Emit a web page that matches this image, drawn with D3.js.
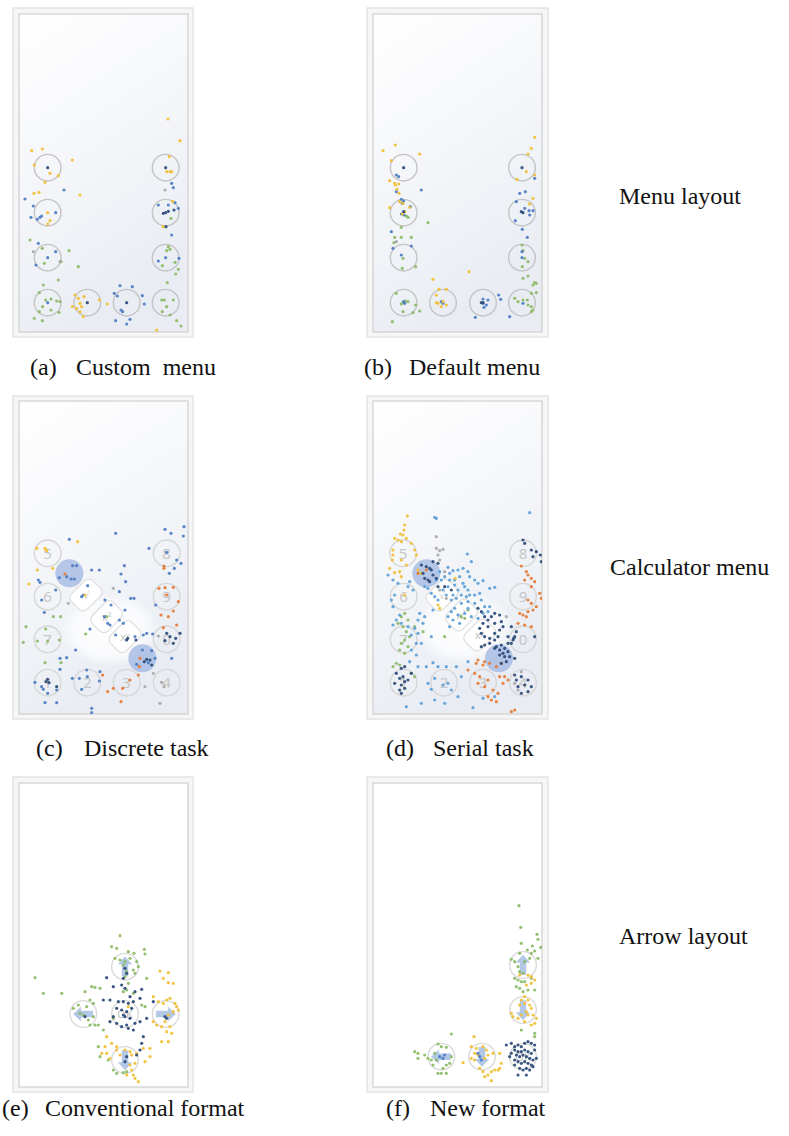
<!DOCTYPE html>
<html><head><meta charset="utf-8">
<script src="https://cdn.jsdelivr.net/npm/d3@7"></script>
<style>body{margin:0;background:#fff}svg{display:block}</style>
</head><body><svg id="c" width="789" height="1136"></svg>
<script>
// ---------- DATA (touch coordinates in each panel's screen units) ----------
const aYellow=[[474,-33],[65,62],[97,57],[187,90],[73,105],[120,130],[145,137],[105,157],[72,190],[87,187],[210,195],[120,272],[113,282],[510,32],[478,80],[470,125],[480,125],[485,125],[488,215],[460,290],[195,495],[205,505],[210,520],[215,530],[200,535],[210,545],[222,500],[187,530],[268,510],[292,522],[220,560],[440,600],[113,248]];
const aBlue=[[162,180],[45,207],[70,228],[137,248],[63,262],[82,268],[90,262],[95,258],[85,340],[137,365],[113,383],[78,405],[485,160],[490,173],[495,218],[475,225],[505,235],[445,225],[485,315],[467,383],[445,393],[507,385],[330,467],[367,470],[313,490],[322,498],[397,497],[403,522],[333,540],[338,545],[317,572],[360,568],[350,582],[113,518]];
const aNavy=[[113,113],[467,113],[467,248],[475,244],[460,250],[232,518],[350,518],[468,290],[492,240]];
const aGreen=[[60,330],[97,355],[177,362],[103,400],[205,410],[153,395],[145,450],[100,465],[88,488],[107,510],[123,507],[140,513],[150,515],[98,530],[123,540],[147,547],[88,545],[73,565],[97,572],[483,265],[475,350],[480,358],[470,362],[457,407],[495,397],[505,418],[497,432],[472,458],[455,510],[463,510],[490,510],[470,530],[457,545],[480,555],[500,572],[513,588]];
const aGray=[[465,180],[70,365],[150,395]];

const bYellow=[[45,62],[82,45],[155,72],[70,92],[65,152],[80,160],[92,162],[87,178],[93,190],[82,165],[500,22],[490,55],[480,72],[447,148],[500,135],[105,220],[95,215],[125,232],[110,245],[103,252],[65,233],[495,205],[485,222],[303,425],[195,448],[213,478],[235,478],[205,495],[210,520],[220,530],[225,515],[235,525],[205,518],[475,125]];
const bBlue=[[85,135],[92,140],[160,180],[85,185],[100,208],[107,213],[103,220],[127,230],[100,252],[108,255],[70,305],[75,355],[130,348],[100,375],[500,145],[455,190],[472,185],[445,215],[470,235],[483,242],[495,242],[485,255],[442,272],[463,298],[478,322],[462,365],[462,383],[392,495],[398,508],[345,507],[360,510],[345,520],[355,525],[348,532],[322,562],[425,560],[220,515],[225,520],[465,520],[107,515],[110,520]];
const bNavy=[[107,113],[462,113],[107,245],[460,245],[465,248],[340,518],[345,518]];
const bGreen=[[180,278],[115,258],[120,262],[100,292],[80,322],[100,322],[130,322],[78,338],[105,385],[103,415],[143,410],[462,345],[465,362],[463,410],[480,395],[470,385],[465,445],[480,438],[495,465],[500,458],[505,460],[505,488],[490,490],[85,490],[105,518],[112,513],[100,522],[120,515],[143,525],[105,545],[135,548],[155,543],[73,575],[440,505],[450,515],[465,510],[478,510],[490,530],[495,540],[490,545],[480,525]];
const bGray=[[85,335]];

const cYellow=[[80,205],[105,205],[110,212],[203,185],[82,270],[128,265],[57,312],[225,345]];
const cBlue=[[178,178],[317,160],[465,148],[483,160],[522,140],[520,168],[417,205],[470,217],[500,240],[513,250],[478,280],[493,265],[245,270],[268,270],[333,282],[343,257],[347,305],[148,293],[188,257],[200,257],[183,297],[170,290],[193,297],[85,300],[90,307],[95,360],[233,317],[220,345],[215,350],[137,330],[103,397],[285,360],[328,335],[362,355],[372,355],[345,390],[303,375],[293,430],[283,410],[300,435],[328,420],[340,430],[240,447],[317,465],[375,470],[400,465],[410,460],[437,375],[428,462],[150,535],[170,533],[150,568],[197,510],[230,570],[187,595],[208,595],[215,628],[232,590],[270,575],[268,603],[75,607],[95,620],[100,628],[113,640],[140,630],[105,668],[140,668],[245,685],[245,698],[425,512],[397,510],[435,535],[380,553],[415,548],[485,535]];
const cNavy=[[113,598],[117,608],[108,605],[140,620],[350,480],[353,475],[378,480],[410,538],[420,540],[403,545],[425,555],[470,460],[480,470],[465,482],[490,490],[497,475],[510,460]];
const cOrange=[[462,258],[462,265],[447,325],[465,323],[490,322],[470,345],[505,365],[490,393],[453,405],[475,410],[500,435],[460,443],[390,535],[388,560],[278,585],[385,585],[360,600],[293,635],[310,625],[338,625],[333,665],[165,282]];
const cGreen=[[130,410],[152,410],[48,440],[107,447],[82,483],[40,487],[113,483],[148,480],[227,462],[105,548],[153,548],[290,410]];
const cGray=[[175,370],[310,325],[445,468],[430,580],[455,607],[462,620],[450,670],[405,620]];

const dYellow=[[118,108],[110,135],[108,150],[97,162],[105,165],[80,175],[90,180],[100,185],[115,175],[130,190],[140,210],[145,225],[75,210],[75,225],[73,240],[100,240],[115,255],[80,278],[95,275],[65,265],[150,270],[160,280],[110,345],[210,375],[215,385],[262,295],[100,290]];
const dBlue=[[240,262],[255,272],[270,270],[285,265],[300,275],[298,222],[310,245],[305,290],[320,300],[330,310],[345,302],[365,325],[380,322],[290,320],[270,330],[255,345],[265,355],[280,345],[295,350],[305,345],[320,345],[335,340],[280,370],[300,365],[320,370],[340,360],[350,380],[365,380],[300,385],[260,385],[250,395],[270,405],[290,400],[310,410],[330,415],[345,400],[360,395],[240,410],[255,420],[275,430],[245,440],[285,310],[300,330],[260,315],[245,300],[230,290],[220,300],[205,300],[215,275],[245,280],[275,290],[260,300],[240,320],[225,330],[235,345],[250,360],[210,360],[200,350],[190,340],[180,325],[170,320],[195,390],[170,410],[155,400],[150,420],[165,430],[140,445],[150,460],[190,470],[160,490],[130,510],[145,525],[125,545],[150,560],[175,560],[195,548],[210,560],[235,560],[265,560],[300,545],[200,595],[180,610],[190,628],[225,615],[240,610],[250,630],[270,650],[230,670],[200,660],[160,670],[115,680],[315,683],[345,655],[380,650],[280,590],[485,98],[200,112],[205,115],[60,285],[75,300],[90,310],[120,320],[125,305],[135,330],[80,345],[70,360],[75,380],[85,420],[95,405],[100,430],[75,435],[120,440],[130,465],[145,490]];
const dNavy=[[465,180],[470,190],[490,210],[505,215],[517,225],[495,230],[520,245],[160,255],[175,260],[185,265],[190,270],[165,280],[180,300],[195,285],[205,295],[210,250],[195,245],[170,295],[185,305],[210,320],[230,320],[250,330],[330,385],[340,395],[350,410],[360,420],[370,410],[380,400],[395,405],[400,425],[380,430],[360,440],[345,430],[335,445],[340,460],[350,470],[365,475],[380,460],[395,450],[405,440],[390,470],[380,480],[365,490],[350,495],[340,500],[385,500],[400,495],[410,505],[420,490],[430,490],[435,480],[440,470],[430,440],[445,455],[420,515],[405,520],[395,510],[380,505],[395,525],[410,530],[415,545],[400,550],[425,530],[440,535],[100,565],[110,560],[85,580],[95,595],[105,590],[110,605],[100,615],[95,630],[110,625],[120,600],[130,580],[80,610],[100,640],[440,585],[445,600],[460,590],[480,600],[470,615],[490,620],[480,635],[460,640],[450,620],[437,475],[420,470],[500,470]];
const dOrange=[[460,258],[475,275],[480,285],[490,295],[500,305],[470,300],[490,320],[515,340],[520,355],[480,360],[490,370],[505,380],[495,390],[480,395],[455,400],[465,405],[475,410],[450,430],[470,435],[490,440],[400,550],[385,560],[365,550],[350,545],[330,540],[325,550],[345,555],[300,570],[320,580],[335,590],[360,600],[330,610],[350,620],[375,630],[390,640],[360,650],[370,660],[385,665],[395,590],[410,590],[420,600],[405,610],[175,270],[440,690],[430,695],[150,280]];
const dGreen=[[110,400],[100,410],[90,430],[120,420],[105,440],[115,455],[125,470],[110,480],[100,490],[120,500],[95,510],[110,520],[130,580],[140,590],[85,550],[95,555],[75,560],[230,470],[165,455],[140,440],[280,410],[290,415],[300,390]];
const dGray=[[205,205],[215,212],[225,208],[210,225],[215,240],[205,170],[230,275],[215,330],[235,355],[415,410],[450,630],[460,575],[440,610]];

const eGreen=[[330,137],[305,170],[320,175],[355,185],[372,190],[403,178],[405,192],[315,205],[330,210],[345,215],[360,205],[380,215],[385,230],[370,240],[375,250],[350,245],[340,225],[345,260],[355,280],[410,265],[75,263],[100,310],[155,310],[225,305],[245,290],[255,292],[270,295],[240,330],[250,340],[230,350],[205,345],[190,355],[210,370],[235,390],[240,405],[255,405],[265,405],[250,380],[220,375],[340,305],[350,300],[370,310],[395,345],[405,350],[310,385],[280,420],[265,470],[270,500],[310,540],[320,550],[340,548],[350,545],[295,510]];
const eNavy=[[290,263],[310,290],[335,285],[345,295],[360,320],[375,305],[395,298],[280,330],[300,330],[325,335],[340,335],[355,340],[370,335],[390,325],[320,355],[335,360],[350,365],[365,355],[340,375],[345,380],[360,385],[310,380],[300,395],[320,400],[335,410],[350,405],[375,400],[390,395],[355,415],[370,420],[400,440],[395,460],[390,480],[380,495],[345,515],[350,500],[345,235],[350,250],[340,265],[225,380],[410,385],[430,335],[465,380],[470,385]];
const eYellow=[[450,243],[475,248],[460,265],[490,280],[475,278],[430,320],[445,335],[460,340],[470,330],[480,325],[495,340],[500,350],[505,360],[490,365],[475,375],[465,395],[455,410],[440,405],[430,395],[480,410],[470,425],[485,430],[455,455],[475,455],[290,440],[305,460],[320,470],[285,470],[275,490],[290,490],[300,505],[320,480],[330,495],[345,480],[360,485],[380,490],[400,475],[405,515],[375,520],[360,525],[365,540],[350,555],[370,555],[375,565],[385,575],[355,350],[365,495],[420,475],[420,500]];

const fGreen=[[453,47],[458,112],[460,160],[507,133],[510,148],[493,168],[518,172],[478,180],[500,183],[490,190],[455,190],[430,208],[440,215],[485,205],[510,205],[450,230],[470,215],[455,245],[465,250],[440,265],[450,270],[460,275],[470,275],[445,290],[455,295],[490,265],[500,300],[480,300],[465,305],[500,430],[500,440],[460,420],[250,432],[210,462],[220,470],[235,472],[140,485],[150,490],[170,495],[180,505],[190,510],[200,490],[205,510],[250,500],[245,520],[235,525],[225,535],[210,550],[220,550],[235,550],[150,505],[195,525]];
const fYellow=[[455,255],[480,255],[490,260],[500,270],[490,280],[475,285],[470,320],[480,330],[460,330],[470,340],[485,345],[490,355],[475,365],[460,375],[480,375],[495,375],[505,385],[500,400],[490,405],[470,395],[450,385],[435,380],[430,370],[455,345],[318,440],[310,470],[325,475],[345,470],[355,480],[320,490],[330,495],[350,505],[360,495],[375,490],[395,490],[400,520],[395,535],[380,540],[370,545],[360,555],[350,560],[345,545],[335,535],[370,572],[390,540],[285,518],[320,510],[310,505]];
const fNavy=[[415,465],[430,460],[440,470],[450,465],[460,470],[470,460],[480,455],[490,460],[500,465],[440,480],[450,485],[460,485],[470,480],[480,485],[490,490],[500,480],[445,495],[455,500],[465,495],[475,500],[485,505],[495,510],[505,505],[440,510],[450,515],[460,520],[470,515],[480,520],[490,525],[440,525],[455,535],[465,540],[475,535],[485,540],[495,530],[450,555],[475,555],[430,490],[425,500]];
const fBlue=[[330,490],[335,500],[340,510],[215,500],[225,505],[230,495]];

// targets / keys / arrows
const targetsA=[[113,113],[467,113],[113,248],[467,248],[113,383],[467,383],[113,518],[232,518],[350,518],[467,518]];
const targetsB=[[107,113],[462,113],[107,248],[462,248],[107,383],[462,383],[107,518],[225,518],[345,518],[462,518]];
const keysC=[["5",113,220],["6",113,350],["7",113,478],["8",470,220],["9",470,350],["0",470,478],["1",113,608],["2",232,608],["3",350,608],["4",470,608]];
const keysD=[["5",105,220],["6",107,350],["7",107,478],["8",465,220],["9",465,350],["0",465,478],["1",107,608],["2",228,608],["3",345,608],["4",465,608]];
const highlightsC=[[178,280],[397,535]];
const highlightsD=[[175,280],[393,535]];
const opsC=[["√",228,345],["x²",290,410],["xʸ",345,470]];
const opsD=[["√",222,345],["x²",280,405],["xʸ",335,465]];
const arrowsE=[["up",345,230],["left",220,372],["ok",345,372],["right",467,372],["down",345,510]];
const arrowsF=[["up",465,225],["down",465,360],["left",220,500],["down",342,500],["ok",465,500]];

const captions=[["(a)","Custom  menu"],["(b)","Default menu"],["(c)","Discrete task"],["(d)","Serial task"],["(e)","Conventional format"],["(f)","New format"]];
const rowLabels=["Menu layout","Calculator menu","Arrow layout"];

// ---------- LAYOUT ----------
const colors={y:"#f1bf34",b:"#4d7dc3",lb:"#5d9fd8",n:"#2b4a77",g:"#8cbb66",o:"#e67b35",k:"#a8a8a8"};
const panels=[
 {outer:[13,8,193,337],inner:[19,14,188,332],crop:[10,130],grad:true,
  series:[["g",aGreen],["k",aGray],["b",aBlue],["y",aYellow],["n",aNavy]],targets:targetsA},
 {outer:[367,8,548,337],inner:[373,14,542,332],crop:[368,130],grad:true,
  series:[["g",bGreen],["k",bGray],["b",bBlue],["y",bYellow],["n",bNavy]],targets:targetsB},
 {outer:[13,396,193,719],inner:[19,401,188,714],crop:[10,480],grad:true,
  series:[["k",cGray],["g",cGreen],["b",cBlue],["y",cYellow],["o",cOrange],["n",cNavy]],keys:keysC,hl:highlightsC,ops:opsC},
 {outer:[367,396,548,719],inner:[373,401,542,714],crop:[368,480],grad:true,
  series:[["k",dGray],["g",dGreen],["lb",dBlue],["y",dYellow],["o",dOrange],["n",dNavy]],keys:keysD,hl:highlightsD,ops:opsD},
 {outer:[13,777,193,1092],inner:[19,783,188,1087],crop:[10,890],grad:false,
  series:[["g",eGreen],["y",eYellow],["n",eNavy]],arrows:arrowsE},
 {outer:[367,777,548,1092],inner:[373,783,542,1087],crop:[368,890],grad:false,
  series:[["g",fGreen],["y",fYellow],["b",fBlue],["n",fNavy]],arrows:arrowsF}
];
const captionPos=[[30,76,375],[364,409,375],[36,84,756],[386,433,756],[2,45,1116],[386,430,1116]];
const rowLabelPos=[[619,204],[610,575],[619,944]];
const serif="'Liberation Serif','Times New Roman',serif";

const svg=d3.select("#c");
const defs=svg.append("defs");
const g0=defs.append("linearGradient").attr("id","bg").attr("x1",0).attr("y1",0).attr("x2",0.35).attr("y2",1);
g0.append("stop").attr("offset",0).attr("stop-color","#ffffff");
g0.append("stop").attr("offset",0.35).attr("stop-color","#f8f9fb");
g0.append("stop").attr("offset",1).attr("stop-color","#e9edf3");
const rg=defs.append("radialGradient").attr("id","wh");
rg.append("stop").attr("offset",0).attr("stop-color","#ffffff").attr("stop-opacity",0.95);
rg.append("stop").attr("offset",0.7).attr("stop-color","#ffffff").attr("stop-opacity",0.7);
rg.append("stop").attr("offset",1).attr("stop-color","#ffffff").attr("stop-opacity",0);

const arrowShape=[[0,-32],[24,-6],[11,-6],[11,30],[-11,30],[-11,-6],[-24,-6]];
const rot={up:0,right:90,down:180,left:270};

panels.forEach((p,i)=>{
  const x=d3.scaleLinear().domain([0,540]).range([p.crop[0],p.crop[0]+180]);
  const y=d3.scaleLinear().domain([0,540]).range([p.crop[1],p.crop[1]+180]);
  const k=x(1)-x(0);
  const g=svg.append("g");
  const [ox0,oy0,ox1,oy1]=p.outer,[ix0,iy0,ix1,iy1]=p.inner;
  g.append("rect").attr("x",ox0).attr("y",oy0).attr("width",ox1-ox0).attr("height",oy1-oy0)
    .attr("fill","#f6f6f6").attr("stroke","#e4e4e4").attr("stroke-width",1.5);
  g.append("rect").attr("x",ix0).attr("y",iy0).attr("width",ix1-ix0).attr("height",iy1-iy0)
    .attr("fill",p.grad?"url(#bg)":"#ffffff").attr("stroke","#cfcfcf").attr("stroke-width",1.2);
  const clip="clip"+i;
  defs.append("clipPath").attr("id",clip).append("rect").attr("x",ix0).attr("y",iy0).attr("width",ix1-ix0).attr("height",iy1-iy0);
  const inner=g.append("g").attr("clip-path",`url(#${clip})`);

  if(p.ops){
    const c0=p.ops[1];
    inner.append("ellipse").attr("cx",x(c0[1]+10)).attr("cy",y(c0[2]+40)).attr("rx",150*k).attr("ry",110*k)
      .attr("fill","url(#wh)");
    p.ops.forEach(o=>{
      const og=inner.append("g").attr("transform",`translate(${x(o[1])},${y(o[2])}) rotate(45)`);
      og.append("rect").attr("x",-11).attr("y",-15).attr("width",22).attr("height",30).attr("rx",6)
        .attr("fill","#ffffff").attr("stroke","#dedede").attr("stroke-width",1.2);
      og.append("text").attr("transform","rotate(-45)").attr("text-anchor","middle").attr("dy","0.35em")
        .attr("font-family","Noto Sans").attr("font-size",11).attr("fill","#c4c4c4").text(o[0]);
    });
  }
  if(p.hl){
    inner.selectAll(".hl").data(p.hl).join("circle").attr("cx",d=>x(d[0])).attr("cy",d=>y(d[1]))
      .attr("r",42*k).attr("fill","#a9bde4").attr("opacity",0.85);
  }
  if(p.targets){
    inner.selectAll(".t").data(p.targets).join("circle").attr("cx",d=>x(d[0])).attr("cy",d=>y(d[1]))
      .attr("r",40*k).attr("fill","none").attr("stroke","#c4c4c4").attr("stroke-width",1.4);
  }
  if(p.keys){
    inner.selectAll(".k").data(p.keys).join("circle").attr("cx",d=>x(d[1])).attr("cy",d=>y(d[2]))
      .attr("r",40*k).attr("fill","none").attr("stroke","#d6d6d6").attr("stroke-width",1.4);
    inner.selectAll(".kt").data(p.keys).join("text").attr("x",d=>x(d[1])).attr("y",d=>y(d[2]))
      .attr("dy","0.36em").attr("text-anchor","middle").attr("font-family","Noto Sans").attr("font-size",15)
      .attr("fill","#c6c6c6").text(d=>d[0]);
  }
  if(p.arrows){
    inner.selectAll(".ac").data(p.arrows).join("circle").attr("cx",d=>x(d[1])).attr("cy",d=>y(d[2]))
      .attr("r",40*k).attr("fill","none").attr("stroke","#dadada").attr("stroke-width",1.4);
    p.arrows.forEach(a=>{
      if(a[0]==="ok"){
        inner.append("text").attr("x",x(a[1])).attr("y",y(a[2])).attr("dy","0.35em").attr("text-anchor","middle")
          .attr("font-family","Noto Sans").attr("font-size",11).attr("fill","#c2c2c2").text("OK");
      } else {
        inner.append("path").attr("d","M"+arrowShape.map(q=>[q[0]*k,q[1]*k].join(",")).join("L")+"Z")
          .attr("transform",`translate(${x(a[1])},${y(a[2])}) rotate(${rot[a[0]]})`)
          .attr("fill","#b3c7e6").attr("stroke","#ffffff").attr("stroke-width",0.8);
      }
    });
  }
  p.series.forEach(([c,pts])=>{
    inner.append("g").selectAll("circle").data(pts).join("circle")
      .attr("cx",d=>x(d[0])).attr("cy",d=>y(d[1])).attr("r",1.6)
      .attr("fill",colors[c]).attr("opacity",0.92);
  });
});

// captions
captions.forEach((c,i)=>{
  const [x1,x2,yb]=captionPos[i];
  const t=svg.append("text").attr("y",yb).style("font-family",serif)
    .attr("font-size",24).attr("fill","#111").style("white-space","pre");
  t.append("tspan").attr("x",x1).text(c[0]);
  t.append("tspan").attr("x",x2).text(c[1]);
});
rowLabels.forEach((l,i)=>{
  svg.append("text").attr("x",rowLabelPos[i][0]).attr("y",rowLabelPos[i][1])
    .style("font-family",serif).attr("font-size",24).attr("fill","#111").text(l);
});
</script></body></html>
